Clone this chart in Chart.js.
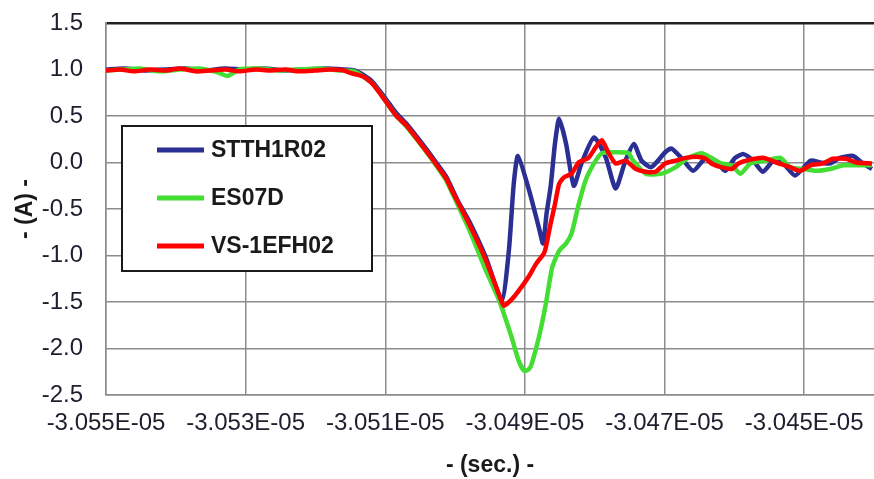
<!DOCTYPE html>
<html>
<head>
<meta charset="utf-8">
<script src="https://cdn.jsdelivr.net/npm/chart.js@4.4.1/dist/chart.umd.min.js"></script>
<style>
  body { margin: 0; background: #fff; }
  #wrap { width: 874px; height: 479px; }
</style>
</head>
<body>
<div id="wrap"><canvas id="recoveryChart"></canvas></div>
<script>
// time is kept in ns, the axis shows it in seconds; current in A
const seriesNames = ['STTH1R02', 'ES07D', 'VS-1EFH02'];

const stthTime = [-30550.0, -30547.3, -30544.4, -30541.6, -30538.7, -30535.9, -30533.0, -30530.1, -30527.3, -30524.4,
  -30521.6, -30518.7, -30515.9, -30514.4, -30513.3, -30512.0, -30510.9, -30509.4, -30508.4, -30507.0,
  -30505.1, -30503.3, -30501.3, -30499.7, -30498.0, -30495.6, -30493.3, -30492.3, -30491.6, -30491.0,
  -30489.4, -30488.0, -30487.4, -30486.9, -30486.3, -30485.7, -30485.1, -30484.1, -30483.0, -30481.9,
  -30480.1, -30478.4, -30477.0, -30475.6, -30474.4, -30473.3, -30471.9, -30469.9, -30469.0, -30467.6,
  -30465.9, -30464.1, -30462.7, -30461.3, -30459.9, -30458.7, -30457.3, -30455.9, -30454.4, -30453.0,
  -30451.3, -30449.1, -30447.7, -30446.3, -30444.9, -30443.0, -30441.6, -30440.3];
const stthAmps = [1.00, 1.01, 0.99, 1.00, 1.01, 0.99, 1.01, 1.00, 1.01, 0.99,
  1.00, 1.01, 1.00, 0.99, 0.95, 0.88, 0.78, 0.63, 0.53, 0.42,
  0.24, 0.06, -0.15, -0.40, -0.63, -1.02, -1.48, -0.95, -0.23, 0.07,
  -0.30, -0.70, -0.87, -0.55, -0.25, 0.20, 0.47, 0.20, -0.25, -0.01,
  0.27, 0.05, -0.28, 0.02, 0.20, 0.02, -0.05, 0.11, 0.15, 0.05,
  -0.09, 0.05, 0.02, -0.09, 0.05, 0.09, 0.02, -0.10, 0.02, -0.01,
  -0.14, 0.02, 0.00, -0.01, 0.05, 0.07, -0.01, -0.07];

const es07Time = [-30550.0, -30547.7, -30545.1, -30542.3, -30539.4, -30536.6, -30534.0, -30532.6, -30530.9, -30528.0,
  -30525.1, -30522.3, -30519.4, -30516.6, -30514.4, -30513.3, -30512.0, -30510.9, -30509.4, -30508.4,
  -30507.0, -30505.1, -30503.3, -30501.3, -30500.4, -30498.0, -30495.6, -30493.7, -30491.9, -30490.9,
  -30490.1, -30489.4, -30489.0, -30488.0, -30487.0, -30486.1, -30485.1, -30484.1, -30483.3, -30482.3,
  -30481.3, -30480.1, -30479.0, -30476.6, -30475.1, -30474.7, -30472.7, -30470.4, -30468.4, -30466.6,
  -30464.7, -30463.3, -30461.9, -30460.4, -30459.1, -30457.7, -30455.4, -30453.4, -30452.0, -30450.1,
  -30448.3, -30446.3, -30444.4, -30442.6, -30440.3];
const es07Amps = [0.99, 1.00, 1.01, 0.98, 1.00, 1.01, 0.97, 0.93, 1.00, 1.01,
  0.99, 1.00, 1.01, 0.99, 0.98, 0.93, 0.86, 0.76, 0.60, 0.50,
  0.39, 0.21, 0.03, -0.19, -0.33, -0.72, -1.16, -1.48, -1.88, -2.13,
  -2.24, -2.22, -2.16, -1.88, -1.52, -1.13, -0.95, -0.87, -0.76, -0.45,
  -0.19, -0.01, 0.10, 0.11, 0.10, 0.04, -0.12, -0.12, -0.05, 0.05,
  0.10, 0.05, -0.01, -0.03, -0.12, -0.01, 0.02, 0.05, -0.05, -0.07,
  -0.09, -0.07, -0.03, -0.03, -0.03];

const vsTime = [-30550.0, -30548.0, -30546.0, -30543.7, -30541.4, -30539.4, -30537.1, -30535.1, -30532.9, -30530.9,
  -30528.6, -30526.6, -30524.3, -30522.3, -30520.0, -30518.0, -30515.9, -30514.9, -30513.3, -30512.0,
  -30510.9, -30509.4, -30508.4, -30507.0, -30505.1, -30503.3, -30501.3, -30500.4, -30498.0, -30495.6,
  -30493.3, -30493.0, -30492.0, -30490.9, -30489.4, -30488.4, -30487.3, -30487.0, -30486.3, -30485.7,
  -30485.1, -30484.4, -30483.3, -30482.3, -30480.9, -30479.9, -30479.0, -30478.0, -30477.0, -30475.6,
  -30474.1, -30472.7, -30471.3, -30469.9, -30468.4, -30467.0, -30465.1, -30464.1, -30463.3, -30461.9,
  -30460.4, -30459.4, -30458.3, -30455.9, -30454.0, -30452.0, -30450.6, -30449.1, -30447.3, -30445.9,
  -30444.0, -30442.6, -30440.3];
const vsAmps = [0.99, 1.00, 0.98, 1.00, 0.99, 1.01, 0.98, 0.99, 1.00, 0.98,
  1.00, 0.99, 1.00, 0.98, 0.99, 1.00, 0.99, 0.96, 0.93, 0.86,
  0.76, 0.60, 0.50, 0.40, 0.22, 0.04, -0.17, -0.31, -0.66, -1.05,
  -1.50, -1.54, -1.48, -1.38, -1.22, -1.09, -0.98, -0.91, -0.65, -0.45,
  -0.23, -0.16, -0.12, 0.00, 0.05, 0.16, 0.24, 0.10, -0.01, 0.02,
  -0.07, -0.10, -0.10, -0.01, 0.02, 0.05, 0.06, 0.04, -0.01, -0.05,
  -0.07, -0.01, 0.02, 0.05, 0.00, -0.05, -0.09, -0.03, -0.01, 0.04,
  0.04, 0.00, -0.01];

const xTickValues = [-30550, -30530, -30510, -30490, -30470, -30450];
const xTickLabels = ['-3.055E-05', '-3.053E-05', '-3.051E-05', '-3.049E-05', '-3.047E-05', '-3.045E-05'];

const toPoints = (t, a) => t.map((v, i) => ({ x: v, y: a[i] }));

const legendBox = {
  id: 'legendBox',
  afterDatasetsDraw(chart) {
    const { ctx, chartArea } = chart;
    const left = chartArea.left + 16, top = chartArea.top + 103;
    ctx.save();
    ctx.fillStyle = '#fff';
    ctx.fillRect(left, top, 250, 145);
    ctx.lineWidth = 2;
    ctx.strokeStyle = '#1a1a1a';
    ctx.strokeRect(left, top, 250, 145);
    ctx.font = 'bold 23px "Liberation Sans", Arial, sans-serif';
    ctx.textBaseline = 'middle';
    chart.data.datasets.forEach((ds, i) => {
      const y = top + 24 + i * 48;
      ctx.strokeStyle = ds.borderColor;
      ctx.lineWidth = 5;
      ctx.beginPath();
      ctx.moveTo(left + 35, y);
      ctx.lineTo(left + 82, y);
      ctx.stroke();
      ctx.fillStyle = '#1a1a1a';
      ctx.fillText(ds.label, left + 89, y + 1);
    });
    ctx.restore();
  }
};

document.addEventListener('DOMContentLoaded', () => {
  const ctx = document.getElementById('recoveryChart').getContext('2d');
  new Chart(ctx, {
    type: 'line',
    data: {
      datasets: [{
        label: seriesNames[0],
        data: toPoints(stthTime, stthAmps),
        borderColor: '#2b2f94',
        order: 3
      }, {
        label: seriesNames[1],
        data: toPoints(es07Time, es07Amps),
        borderColor: '#44dd33',
        order: 2
      }, {
        label: seriesNames[2],
        data: toPoints(vsTime, vsAmps),
        borderColor: '#ff0000',
        order: 1
      }]
    },
    options: {
      responsive: true,
      maintainAspectRatio: false,
      animation: false,
      layout: { padding: { top: 23, right: 0, left: 0, bottom: 0 } },
      elements: {
        line: { borderWidth: 4.5, tension: 0.2, fill: false },
        point: { radius: 0 }
      },
      plugins: {
        legend: { display: false },
        tooltip: { enabled: false }
      },
      scales: {
        x: {
          type: 'linear',
          min: -30550,
          max: -30440,
          afterBuildTicks: axis => { axis.ticks = xTickValues.map(v => ({ value: v })); },
          afterFit: axis => {
            axis.height = 84;
            axis.paddingLeft = 0;
            axis.paddingRight = 0;
          },
          ticks: {
            autoSkip: false,
            maxRotation: 0,
            padding: 14,
            color: '#1e1e2e',
            font: { family: '"Liberation Sans", Arial, sans-serif', size: 24 },
            callback: (v, i) => xTickLabels[i] ?? ''
          },
          grid: { color: '#8c8c8c', lineWidth: 1.5, drawTicks: false },
          border: { color: '#8c8c8c', width: 1.5 },
          title: {
            display: true,
            text: '- (sec.) -',
            color: '#1a1a1a',
            font: { family: '"Liberation Sans", Arial, sans-serif', size: 23, weight: 'bold' },
            padding: { top: 0, bottom: 0 }
          }
        },
        y: {
          min: -2.5,
          max: 1.5,
          afterFit: axis => {
            axis.width = 106;
            axis.paddingTop = 0;
            axis.paddingBottom = 0;
          },
          ticks: {
            stepSize: 0.5,
            padding: 23,
            color: '#1e1e2e',
            font: { family: '"Liberation Sans", Arial, sans-serif', size: 24 },
            callback: v => v.toFixed(1)
          },
          grid: {
            drawTicks: false,
            color: c => c.tick && c.tick.value === 1.5 ? '#222' : '#8c8c8c',
            lineWidth: c => c.tick && c.tick.value === 1.5 ? 2.5 : 1.5
          },
          border: { color: '#8c8c8c', width: 1.5 },
          title: {
            display: true,
            text: '- (A) -',
            color: '#1a1a1a',
            font: { family: '"Liberation Sans", Arial, sans-serif', size: 23, weight: 'bold' },
            padding: { top: 12, bottom: 0 }
          }
        }
      }
    },
    plugins: [legendBox]
  });
});
</script>
</body>
</html>
